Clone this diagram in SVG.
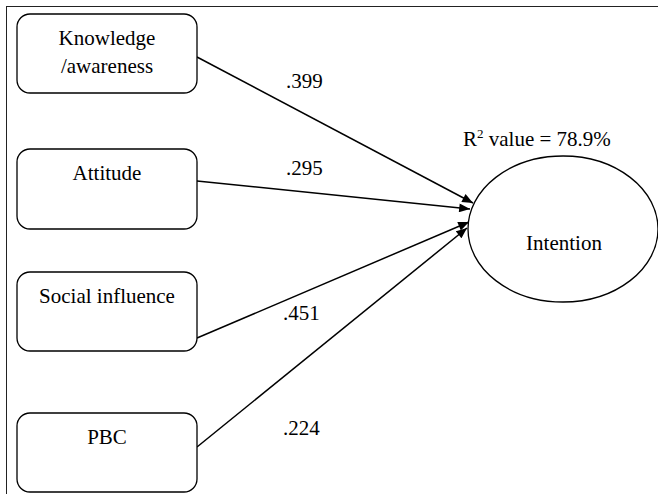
<svg xmlns="http://www.w3.org/2000/svg" width="658" height="494" viewBox="0 0 658 494">
<defs>
<style>
.box{fill:#fff;stroke:#000;stroke-width:1.3}
.ln{stroke:#000;stroke-width:1.5;fill:none}
</style>
<marker id="ah" viewBox="0 0 12 10" refX="12" refY="5" markerWidth="12" markerHeight="9" markerUnits="userSpaceOnUse" orient="auto">
<path d="M0,0 L12,5 L0,10 z" fill="#000"/>
</marker>
</defs>
<rect width="658" height="494" fill="#fff"/>
<g id="frame">
<line x1="6.5" y1="6" x2="6.5" y2="494" stroke="#222" stroke-width="1"/>
<line x1="6" y1="6.5" x2="658" y2="6.5" stroke="#222" stroke-width="1"/>
</g>
<g id="connectors">
<line class="ln" x1="197" y1="57" x2="473" y2="203" marker-end="url(#ah)"/>
<line class="ln" x1="197" y1="181" x2="470" y2="209" marker-end="url(#ah)"/>
<line class="ln" x1="197" y1="338" x2="469" y2="222" marker-end="url(#ah)"/>
<line class="ln" x1="197" y1="447" x2="467" y2="228" marker-end="url(#ah)"/>
<text x="286" y="88" font-size="21" font-family="Liberation Serif">.399</text>
<text x="286" y="175" font-size="21" font-family="Liberation Serif">.295</text>
<text x="283" y="320" font-size="21" font-family="Liberation Serif">.451</text>
<text x="283" y="435" font-size="21" font-family="Liberation Serif">.224</text>
</g>
<g id="knowledge">
<rect class="box" x="17" y="14" width="180" height="79" rx="13"/>
<text x="107" y="45" font-size="21" font-family="Liberation Serif" text-anchor="middle">Knowledge</text>
<text x="107" y="73" font-size="21" font-family="Liberation Serif" text-anchor="middle">/awareness</text>
</g>
<g id="attitude">
<rect class="box" x="17" y="149" width="180" height="80" rx="13"/>
<text x="107" y="180" font-size="21" font-family="Liberation Serif" text-anchor="middle">Attitude</text>
</g>
<g id="social">
<rect class="box" x="17" y="272" width="180" height="79" rx="13"/>
<text x="107" y="303" font-size="21" font-family="Liberation Serif" text-anchor="middle">Social influence</text>
</g>
<g id="pbc">
<rect class="box" x="17" y="413" width="180" height="79" rx="13"/>
<text x="107" y="444" font-size="21" font-family="Liberation Serif" text-anchor="middle">PBC</text>
</g>
<g id="intention">
<ellipse cx="563" cy="229" rx="95" ry="73" fill="#fff" stroke="#000" stroke-width="1.3"/>
<text x="564" y="250" font-size="21" font-family="Liberation Serif" text-anchor="middle">Intention</text>
<text x="463" y="146" font-size="21" font-family="Liberation Serif">R<tspan font-size="13" dy="-8">2</tspan><tspan dy="8"> value = 78.9%</tspan></text>
</g>
</svg>
